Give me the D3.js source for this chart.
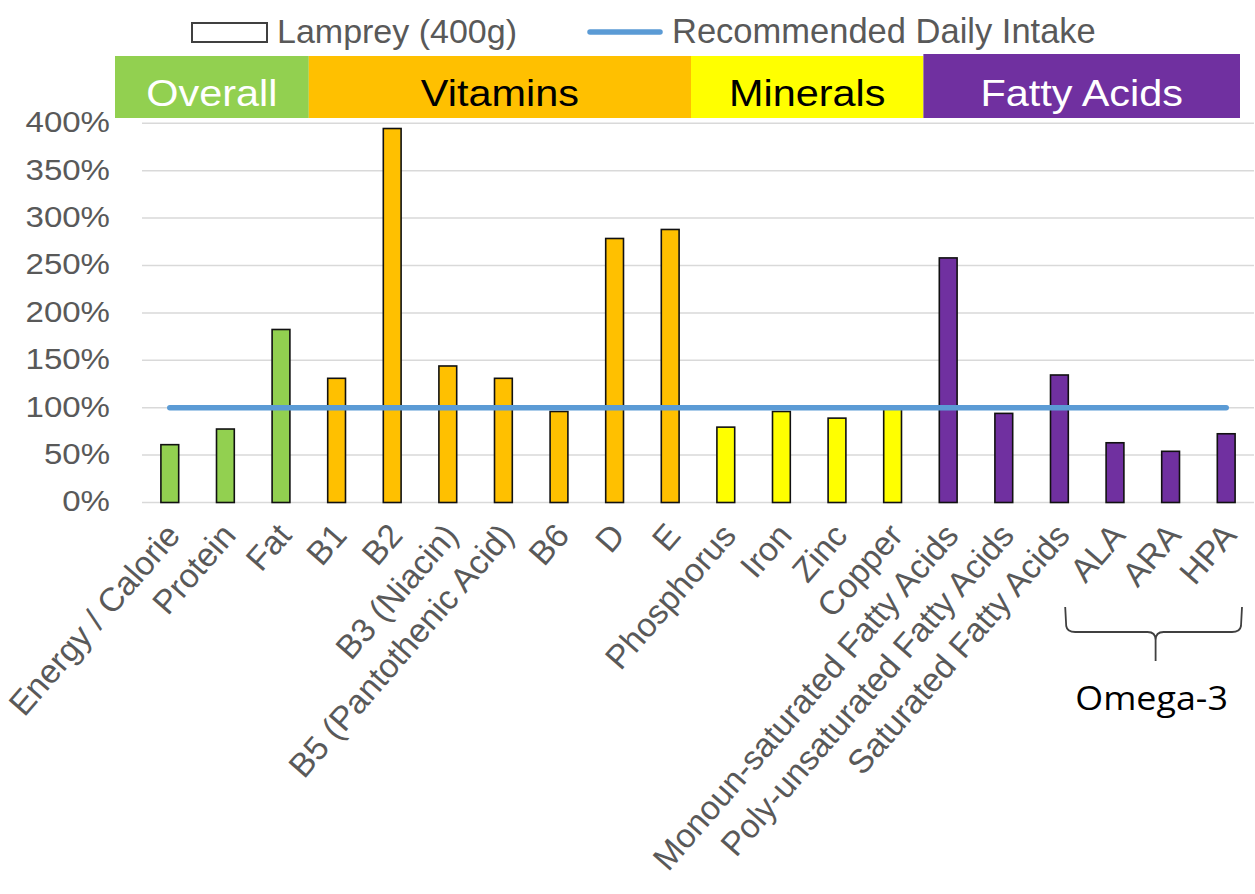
<!DOCTYPE html>
<html>
<head>
<meta charset="utf-8">
<script src="https://cdn.jsdelivr.net/npm/d3@7"></script>
<style>
  html, body { margin: 0; padding: 0; background: #fff; }
  svg { display: block; font-family: "Liberation Sans", Arial, sans-serif; }
</style>
</head>
<body>
<div id="chart"></div>
<script>
// nutrients for a 400g portion of lamprey, as % of recommended daily intake
const categories = ["Energy / Calorie", "Protein", "Fat", "B1", "B2", "B3 (Niacin)",
  "B5 (Pantothenic Acid)", "B6", "D", "E", "Phosphorus", "Iron", "Zinc", "Copper",
  "Monoun-saturated Fatty Acids", "Poly-unsaturated Fatty Acids", "Saturated Fatty Acids",
  "ALA", "ARA", "HPA"];
const values = [61, 77.5, 182.5, 131, 394.5, 144, 131, 96, 278.5, 288,
  79.5, 96, 89, 99, 258, 94, 134.5, 63, 54, 72.5];
const groupOf = ["Overall", "Overall", "Overall",
  "Vitamins", "Vitamins", "Vitamins", "Vitamins", "Vitamins", "Vitamins", "Vitamins",
  "Minerals", "Minerals", "Minerals", "Minerals",
  "Fatty Acids", "Fatty Acids", "Fatty Acids", "Fatty Acids", "Fatty Acids", "Fatty Acids"];
const groupNames = ["Overall", "Vitamins", "Minerals", "Fatty Acids"];
const groupColors = ["#92D050", "#FFC000", "#FFFF00", "#7030A0"];
const groupTextColors = ["#ffffff", "#000000", "#000000", "#ffffff"];
const yTicks = [0, 50, 100, 150, 200, 250, 300, 350, 400];
const rdiValue = 100;
const omegaItems = ["ALA", "ARA", "HPA"];
const legendLabels = ["Lamprey (400g)", "Recommended Daily Intake"];

const width = 1255, height = 894;
const plotLeft = 142, plotRight = 1254, plotTop = 123.3, plotBottom = 502.5;
const stretch = 1.12; // the source picture's text is a bit wider than plain Arial

const svg = d3.select("#chart").append("svg")
  .attr("width", width)
  .attr("height", height);

const x = d3.scaleBand().domain(categories).range([plotLeft, plotRight]).padding(0);
const y = d3.scaleLinear().domain([0, 400]).range([plotBottom, plotTop]);
const color = d3.scaleOrdinal().domain(groupNames).range(groupColors);
const bw = x.bandwidth();
const barW = bw * 0.32;

// gridlines
svg.append("g").selectAll("line")
  .data(yTicks)
  .enter().append("line")
  .attr("x1", plotLeft).attr("x2", plotRight)
  .attr("y1", d => y(d)).attr("y2", d => y(d))
  .attr("stroke", "#d9d9d9")
  .attr("stroke-width", 1.5);

// y labels
svg.append("g").selectAll("text")
  .data(yTicks)
  .enter().append("text")
  .attr("transform", d => `translate(${plotLeft - 32},${y(d) - 1}) scale(${stretch},1)`)
  .attr("text-anchor", "end")
  .attr("dominant-baseline", "central")
  .attr("fill", "#595959")
  .style("font-size", "29.5px")
  .text(d => d + "%");

// bars
svg.append("g").selectAll("rect")
  .data(categories)
  .enter().append("rect")
  .attr("x", d => x(d) + (bw - barW) / 2)
  .attr("y", (d, i) => y(values[i]))
  .attr("width", barW)
  .attr("height", (d, i) => y(0) - y(values[i]))
  .attr("fill", (d, i) => color(groupOf[i]))
  .attr("stroke", "#111")
  .attr("stroke-width", 1.6);

// recommended daily intake line
const cx = d => x(d) + bw / 2;
svg.append("line")
  .attr("x1", cx(categories[0]))
  .attr("x2", cx(categories[categories.length - 1]))
  .attr("y1", y(rdiValue)).attr("y2", y(rdiValue))
  .attr("stroke", "#5B9BD5")
  .attr("stroke-width", 5.5)
  .attr("stroke-linecap", "round");

// x labels, rotated
svg.append("g").selectAll("text")
  .data(categories)
  .enter().append("text")
  .attr("transform", d => `translate(${cx(d) + 12},${plotBottom + 34}) rotate(-49)`)
  .attr("text-anchor", "end")
  .attr("fill", "#595959")
  .style("font-size", "33.5px")
  .text(d => d);

// group header boxes (edges follow the bands, nudged like the original)
const edgeNudge = [-27, 0, -7, 3, -14];
const groupSpans = groupNames.map((g, gi) => {
  const items = categories.filter((c, i) => groupOf[i] === g);
  const x0 = x(items[0]) + edgeNudge[gi];
  const x1 = x(items[items.length - 1]) + bw + edgeNudge[gi + 1];
  return { name: g, x0, x1, gi };
});

const header = svg.append("g");
header.selectAll("rect")
  .data(groupSpans)
  .enter().append("rect")
  .attr("x", d => d.x0)
  .attr("y", d => d.gi === 3 ? 54 : 56)
  .attr("width", d => d.x1 - d.x0)
  .attr("height", d => d.gi === 3 ? 64 : 62)
  .attr("fill", d => groupColors[d.gi]);

header.selectAll("text")
  .data(groupSpans)
  .enter().append("text")
  .attr("transform", d => `translate(${(d.x0 + d.x1) / 2},106) scale(${stretch},1)`)
  .attr("text-anchor", "middle")
  .attr("fill", d => groupTextColors[d.gi])
  .style("font-size", "37px")
  .text(d => d.name);

// legend
const legend = svg.append("g");
legend.append("rect")
  .attr("x", 192).attr("y", 23)
  .attr("width", 75).attr("height", 19)
  .attr("fill", "#fff")
  .attr("stroke", "#404040")
  .attr("stroke-width", 2);
legend.append("text")
  .attr("x", 277).attr("y", 43)
  .attr("fill", "#595959")
  .style("font-size", "34px")
  .text(legendLabels[0]);
legend.append("line")
  .attr("x1", 590).attr("x2", 660)
  .attr("y1", 32).attr("y2", 32)
  .attr("stroke", "#5B9BD5")
  .attr("stroke-width", 5.5)
  .attr("stroke-linecap", "round");
legend.append("text")
  .attr("x", 672).attr("y", 43)
  .attr("fill", "#595959")
  .style("font-size", "34.5px")
  .text(legendLabels[1]);

// Omega-3 brace
const bl = x(omegaItems[0]) - 22;
const br = x(omegaItems[omegaItems.length - 1]) + bw - 12;
const bm = (bl + br) / 2 + 2;
const by0 = 607, by1 = 632, by2 = 661;
const brace = d3.path();
brace.moveTo(bl, by0);
brace.lineTo(bl + 1, by1 - 6);
brace.quadraticCurveTo(bl + 2, by1, bl + 10, by1);
brace.lineTo(bm - 8, by1);
brace.quadraticCurveTo(bm, by1, bm, by1 + 8);
brace.lineTo(bm, by2);
brace.moveTo(bm, by1 + 8);
brace.quadraticCurveTo(bm, by1, bm + 8, by1);
brace.lineTo(br - 10, by1);
brace.quadraticCurveTo(br - 2, by1, br - 1, by1 - 6);
brace.lineTo(br, by0);
svg.append("path")
  .attr("d", brace.toString())
  .attr("fill", "none")
  .attr("stroke", "#404040")
  .attr("stroke-width", 1.8);

svg.append("text")
  .attr("transform", `translate(${bm - 4},710) scale(${stretch},1)`)
  .attr("text-anchor", "middle")
  .attr("fill", "#000")
  .style("font-family", "'Open Sans', sans-serif")
  .style("font-size", "32px")
  .text("Omega-3");
</script>
</body>
</html>
